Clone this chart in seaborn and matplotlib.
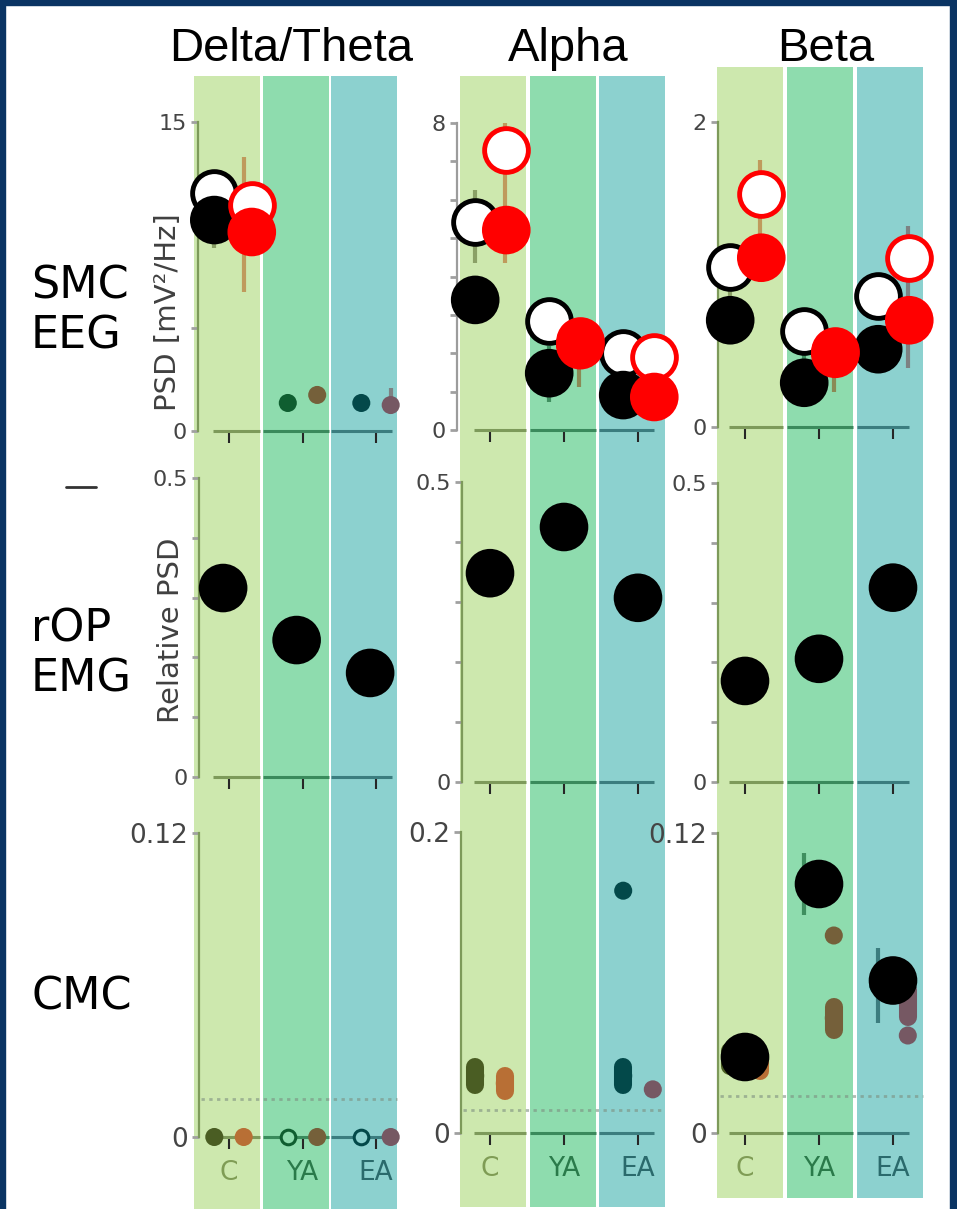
import numpy as np
import pandas as pd
import matplotlib
matplotlib.use("Agg")
import matplotlib.pyplot as plt
import matplotlib.transforms as mtransforms
from matplotlib.patches import Rectangle
from matplotlib.lines import Line2D
from matplotlib.ticker import MultipleLocator
import seaborn as sns

nan = np.nan

# ---------------------------------------------------------------- data
bands = ["Delta/Theta", "Alpha", "Beta"]
groups = ["C", "YA", "EA"]
row_labels = ["SMC\nEEG", "rOP\nEMG", "CMC"]

eeg_top = [15, 8, 2]
emg_top = [0.5, 0.5, 0.5]
cmc_top = [0.12, 0.2, 0.12]
eeg_minor = [5, 1, None]
emg_minor = [0.1, 0.1, 0.1]

# SMC EEG power, large markers (one list per band: C, YA, EA)
eeg_black_open = [[11.55, nan, nan], [5.42, 2.84, 2.00], [1.05, 0.63, 0.86]]
eeg_black_fill = [[10.24, nan, nan], [3.39, 1.48, 0.91], [0.70, 0.29, 0.51]]
eeg_red_open = [[10.97, nan, nan], [7.29, 2.31, 1.90], [1.53, 0.50, 1.11]]
eeg_red_fill = [[9.66, nan, nan], [5.21, 2.21, 0.86], [1.11, 0.48, 0.70]]

# SMC EEG power, group means with error ranges
eeg_dot_dark = [[10.7, 1.36, 1.36], [5.30, 1.50, 0.90], [0.70, 0.29, 0.51]]
eeg_dot_dark_lo = [[8.9, 1.15, 1.15], [4.35, 0.73, 0.70], [0.70, 0.24, 0.45]]
eeg_dot_dark_hi = [[12.5, 1.60, 1.60], [6.25, 2.20, 1.10], [0.90, 0.55, 0.60]]
eeg_dot_light = [[10.0, 1.75, 1.26], [5.21, 2.21, 0.86], [1.11, 0.48, 0.70]]
eeg_dot_light_lo = [[6.75, 1.50, 1.00], [4.35, 1.12, 0.70], [0.95, 0.23, 0.39]]
eeg_dot_light_hi = [[13.3, 2.00, 2.10], [8.00, 2.60, 1.00], [1.75, 0.60, 1.32]]

# rOP EMG relative power
emg_black = [[0.316, 0.229, 0.174], [0.348, 0.425, 0.307], [0.169, 0.206, 0.325]]

# cortico-muscular coherence
cmc_black = [[nan, nan, nan], [nan, nan, nan], [0.0304, 0.0996, 0.061]]
cmc_dot_dark = [[0.0, 0.0, 0.0], [0.038, nan, 0.038], [0.030, 0.0996, 0.059]]
cmc_dot_dark_spread = [[0, 0, 0], [0.006, 0, 0.006], [0.003, 0, 0]]
cmc_dot_dark_ci = [[0, 0, 0], [0, 0, 0], [0, 0.0125, 0.015]]
cmc_dot_light = [[0.0, 0.0, 0.0], [0.033, nan, 0.029], [0.028, 0.046, 0.052]]
cmc_dot_light_spread = [[0, 0, 0], [0.005, 0, 0], [0.003, 0.0046, 0.0054]]
cmc_dot_dark_extra = [[nan, nan, nan], [nan, nan, 0.161], [nan, nan, nan]]
cmc_dot_light_extra = [[nan, nan, nan], [nan, nan, nan], [nan, 0.079, 0.039]]
cmc_threshold = [0.015, 0.015, 0.015]

# ---------------------------------------------------------------- style
band_colors = ["#cde8ae", "#8edcae", "#8cd1cf"]
group_line = ["#7d9a5a", "#3a8a5c", "#3b7d7f"]
group_text = ["#7f9c55", "#2a7a4a", "#2a6a6c"]
dot_dark = ["#4a5d23", "#0f5e30", "#03494a"]
dot_light = ["#b86f35", "#75603a", "#765863"]
err_dark = ["#8aa066", "#3f8f5f", "#3c7d7f"]
err_light = ["#bf9a5c", "#8a8a55", "#7d8283"]
hollow_dark_cmc = [[False, True, True], [False] * 3, [False] * 3]

W, H = 957, 1209
band_left = [194, 460, 717]
band_pitch = [68.5, 69.5, 70.0]
band_width = 66
band_top = [76, 76, 67]
band_bottom = [1209, 1207, 1198]

spine_x = [[198, 199, 199], [457, 462, 461], [718, 718, 718]]
tick0 = [229, 490, 745]
tick_step = [73.5, 74.0, 74.0]
zero_y = [[431, 777, 1137], [430, 782, 1133], [427, 782, 1133]]
top_y = [[122, 478, 833], [123, 482, 832], [122, 483, 833]]
big_off = [(-0.2, 0.31), (-0.2, 0.22), (-0.2, 0.22)]
emg_off = [-0.08, 0.0, 0.0]
dot_off = 0.2

BIG = 35.0          # marker diameter in points
OPEN_LW = 3.5

sns.set_style("ticks")
plt.rcParams["font.family"] = ["DejaVu Sans"]

fig = plt.figure(figsize=(W / 100, H / 100), dpi=100, facecolor="white")


def fx(px):
    return px / W


def fy(py):
    return 1 - py / H


# slide frame
for x0, y0, w, h in [(0, 0, W, 5), (0, 0, 5, H), (950, 0, 7, H)]:
    fig.add_artist(Rectangle((fx(x0), fy(y0 + h)), w / W, h / H,
                             transform=fig.transFigure, color="#0a3463", zorder=-3))

# coloured group bands
for c in range(3):
    for g in range(3):
        x0 = band_left[c] + g * band_pitch[c]
        fig.add_artist(Rectangle((fx(x0), fy(band_bottom[c])), band_width / W,
                                 (band_bottom[c] - band_top[c]) / H,
                                 transform=fig.transFigure, color=band_colors[g],
                                 lw=0, zorder=-2))


def scatter(ax, xs, ys, size, face, edge="none", lw=0, z=3):
    df = pd.DataFrame({"pos": xs, "value": ys}).dropna()
    if df.empty:
        return
    sns.scatterplot(data=df, x="pos", y="value", ax=ax, s=size ** 2, color=face,
                    edgecolor=edge, linewidth=lw, zorder=z, clip_on=False, legend=False)


def ranges(ax, xs, lo, hi, colors, lw=3, z=2):
    for x, a, b, col in zip(xs, lo, hi, colors):
        if np.isnan(a) or a == b:
            continue
        ax.vlines(x, a, b, colors=col, lw=lw, zorder=z, clip_on=False)


def spreads(ax, xs, ys, errs, colors, lw, z=2, cap="butt"):
    for x, y, e, col in zip(xs, ys, errs, colors):
        if np.isnan(y) or not e:
            continue
        ax.vlines(x, y - e, y + e, colors=col, lw=lw, zorder=z, capstyle=cap, clip_on=False)


pos = np.arange(3)

for c in range(3):
    for r in range(3):
        sx = spine_x[c][r]
        right = tick0[c] + 2.5 * tick_step[c]
        ax = fig.add_axes([fx(sx), fy(zero_y[c][r]), (right - sx) / W,
                           (zero_y[c][r] - top_y[c][r]) / H])
        ax.set_facecolor("none")
        top = [eeg_top, emg_top, cmc_top][r][c]

        if r == 0:
            xd, xl = pos - dot_off, pos + dot_off
            ranges(ax, xd, eeg_dot_dark_lo[c], eeg_dot_dark_hi[c], err_dark)
            ranges(ax, xl, eeg_dot_light_lo[c], eeg_dot_light_hi[c], err_light)
            for g in range(3):
                scatter(ax, [xd[g]], [eeg_dot_dark[c][g]], 13, dot_dark[g], z=2.5)
                scatter(ax, [xl[g]], [eeg_dot_light[c][g]], 13, dot_light[g], z=2.5)
            bo, ro = big_off[c]
            scatter(ax, pos + bo, eeg_black_open[c], BIG - OPEN_LW, "white", "black", OPEN_LW, z=4)
            scatter(ax, pos + bo, eeg_black_fill[c], BIG, "black", z=5)
            scatter(ax, pos + ro, eeg_red_open[c], BIG - OPEN_LW, "white", "#ff0000", OPEN_LW, z=6)
            scatter(ax, pos + ro, eeg_red_fill[c], BIG, "#ff0000", z=7)
        elif r == 1:
            scatter(ax, pos + emg_off[c], emg_black[c], BIG, "black", z=5)
        else:
            xd, xl = pos - dot_off, pos + dot_off
            spreads(ax, xd, cmc_dot_dark[c], cmc_dot_dark_ci[c], err_dark, 3)
            spreads(ax, xd, cmc_dot_dark[c], cmc_dot_dark_spread[c], dot_dark, 13, z=2.5, cap="round")
            spreads(ax, xl, cmc_dot_light[c], cmc_dot_light_spread[c], dot_light, 13, z=2.5, cap="round")
            for g in range(3):
                if hollow_dark_cmc[c][g]:
                    scatter(ax, [xd[g]], [cmc_dot_dark[c][g]], 10.5, band_colors[g], dot_dark[g], 2.2, z=2.6)
                else:
                    scatter(ax, [xd[g]], [cmc_dot_dark[c][g]], 13, dot_dark[g], z=2.6)
                scatter(ax, [xl[g]], [cmc_dot_light[c][g]], 13, dot_light[g], z=2.6)
                scatter(ax, [xd[g]], [cmc_dot_dark_extra[c][g]], 13, dot_dark[g], z=2.6)
                scatter(ax, [xl[g]], [cmc_dot_light_extra[c][g]], 13, dot_light[g], z=2.6)
            scatter(ax, pos, cmc_black[c], BIG, "black", z=5)
            # significance level
            thr_tr = mtransforms.blended_transform_factory(fig.transFigure, ax.transData)
            ax.add_line(Line2D([fx(sx + 2), fx(band_left[c] + 2 * band_pitch[c] + band_width)],
                               [cmc_threshold[c]] * 2, transform=thr_tr, color="#7d8f80",
                               alpha=0.6, lw=2, ls=(0, (1.2, 1.6)), zorder=1.2, clip_on=False))

        # axes limits and ticks
        ax.set_xlim((sx - tick0[c]) / tick_step[c], 2.5)
        ax.set_ylim(0, top)
        ax.set_xlabel("")
        ax.set_ylabel("")
        ax.set_xticks(pos)
        ax.set_xticklabels(groups if r == 2 else ["", "", ""])
        ax.set_yticks([0, top])
        ax.set_yticklabels(["0", f"{top:g}"])
        minor = [eeg_minor, emg_minor, [None] * 3][r][c]
        if minor:
            ax.yaxis.set_minor_locator(MultipleLocator(minor))
        ax.tick_params(axis="x", length=8.5, width=1.5, direction="out", pad=8,
                       labelsize=19)
        ax.tick_params(axis="y", which="both", length=5, width=2, color="#a0a0a0",
                       labelcolor="#454545", labelsize=19 if r == 2 else 16, pad=3)
        for g, t in enumerate(ax.xaxis.get_major_ticks()):
            t.tick1line.set_color(group_line[g])
        for g, lab in enumerate(ax.get_xticklabels()):
            lab.set_color(group_text[g])

        for s in ["top", "right", "bottom"]:
            ax.spines[s].set_visible(False)
        ax.spines["left"].set_linewidth(1.6)
        ax.spines["left"].set_color(group_line[0] if sx >= band_left[c] else "#9c9c9c")

        # bottom axis line, one segment per group band
        seg_tr = mtransforms.blended_transform_factory(fig.transFigure, ax.transAxes)
        start = tick0[c] - 16
        end = tick0[c] + 2 * tick_step[c] + 16
        for g in range(3):
            b0 = band_left[c] + g * band_pitch[c]
            x0, x1 = max(start, b0), min(end, b0 + band_width)
            ax.add_line(Line2D([fx(x0), fx(x1)], [0, 0], transform=seg_tr,
                               color=group_line[g], lw=2.2, zorder=1.5, clip_on=False,
                               solid_capstyle="butt"))

# axis titles
fig.text(fx(168), fy(312), "PSD [mV²/Hz]", rotation=90, ha="center", va="center",
         fontsize=21, color="#404040")
fig.text(fx(171), fy(630), "Relative PSD", rotation=90, ha="center", va="center",
         fontsize=21, color="#404040")

# band titles
title_x = [291, 568, 826]
for c, name in enumerate(bands):
    fig.text(fx(title_x[c]), fy(49), name, ha="center", va="center", fontsize=34,
             family=["Liberation Sans", "DejaVu Sans"], color="black")

# row titles
row_y = [311, 654, 997]
for r, name in enumerate(row_labels):
    fig.text(fx(31), fy(row_y[r]), name, ha="left", va="center", fontsize=32,
             linespacing=1.2, color="black")

fig.add_artist(Line2D([fx(66), fx(96)], [fy(487), fy(487)], transform=fig.transFigure,
                      color="#333333", lw=2))

fig.savefig("out.png", dpi=100, facecolor="white")
